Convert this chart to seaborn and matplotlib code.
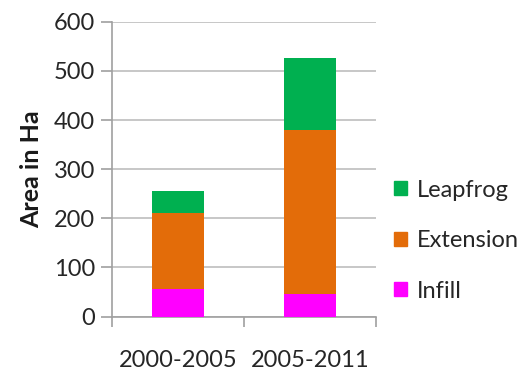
import matplotlib
matplotlib.use("Agg")
import matplotlib.pyplot as plt
from matplotlib.patches import Patch
import seaborn as sns
import pandas as pd
import numpy as np

periods = ["2000-2005", "2005-2011"]
infill = [56, 46]
extension = [154, 334]
leapfrog = [46, 147]

colors = {"Infill": "#FF00FF", "Extension": "#E36C09", "Leapfrog": "#00B050"}

sns.set_style("white")
plt.rcParams["font.family"] = ["Lato", "DejaVu Sans"]

fig = plt.figure(figsize=(5.18, 3.76), dpi=100)
ax = fig.add_axes([0.216, 0.158, 0.510, 0.784])

df = pd.DataFrame({"period": periods, "Infill": infill,
                   "Extension": extension, "Leapfrog": leapfrog})
df["cum_ext"] = df["Infill"] + df["Extension"]
df["cum_leap"] = df["cum_ext"] + df["Leapfrog"]

# stacked bars: draw cumulative totals from the top layer down
for col, name in [("cum_leap", "Leapfrog"), ("cum_ext", "Extension"), ("Infill", "Infill")]:
    sns.barplot(data=df, x="period", y=col, color=colors[name], width=0.4,
                saturation=1, ax=ax, zorder=3, linewidth=0)

ax.set_ylim(0, 600)
ax.set_xlim(-0.5, 1.5)
ax.set_yticks(np.arange(0, 601, 100))
ax.yaxis.grid(True, color="#bdbdbd", linewidth=1.2, zorder=0)
ax.set_axisbelow(True)

for s in ["top", "right"]:
    ax.spines[s].set_visible(False)
for s in ["left", "bottom"]:
    ax.spines[s].set_color("#a0a0a0")
    ax.spines[s].set_linewidth(1.2)

ax.tick_params(axis="y", which="major", length=8, width=1.2, color="#a0a0a0",
               labelsize=17, labelcolor="#262626", pad=4, left=True)
ax.tick_params(axis="x", which="major", length=0, labelsize=17,
               labelcolor="#262626", pad=24)
ax.set_xticks([-0.5, 0.5, 1.5], minor=True)
ax.tick_params(axis="x", which="minor", length=7, width=1.2, color="#a0a0a0",
               bottom=True, direction="out")

ax.set_xlabel("")
ax.set_ylabel("Area in Ha", fontsize=18, fontweight="bold", color="#1a1a1a", labelpad=8)

handles = [Patch(color=colors[n]) for n in ["Leapfrog", "Extension", "Infill"]]
fig.legend(handles, ["Leapfrog", "Extension", "Infill"], loc="center left",
           bbox_to_anchor=(0.72, 0.36), frameon=False, fontsize=17,
           handlelength=0.55, handleheight=0.55, handletextpad=0.4,
           labelspacing=1.25, labelcolor="#262626")

fig.savefig("out.png", dpi=100)
